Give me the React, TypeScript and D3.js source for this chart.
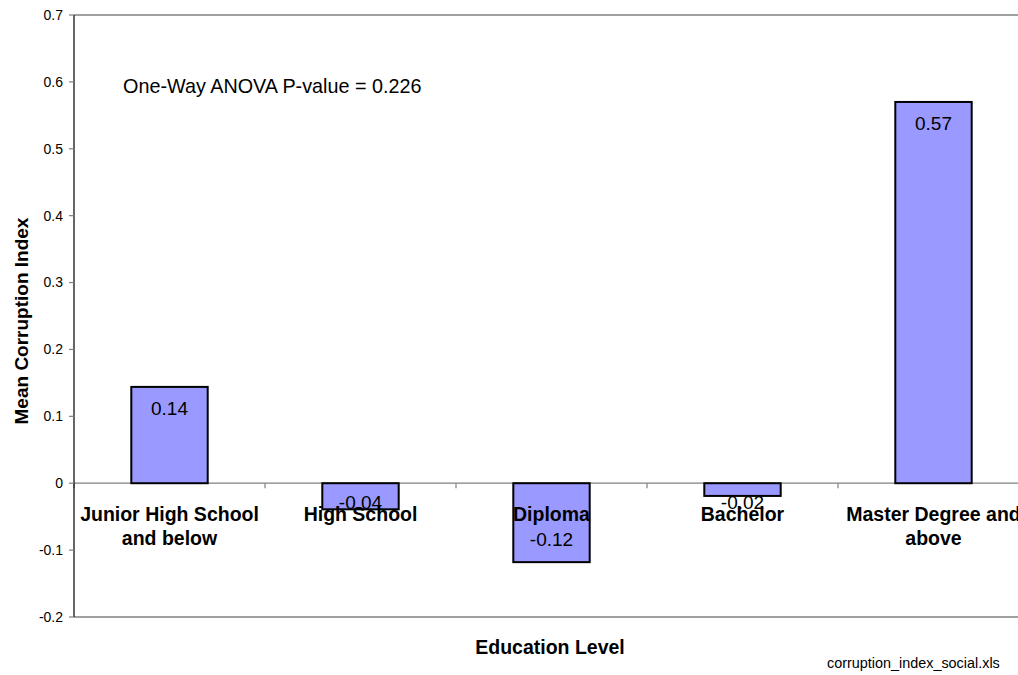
import React from "react";
import * as d3 from "d3";

const categories = ["Junior High School and below", "High School", "Diploma", "Bachelor", "Master Degree and above"];
const categoryLines = [["Junior High School", "and below"], ["High School"], ["Diploma"], ["Bachelor"], ["Master Degree and", "above"]];
const values = [0.144, -0.039, -0.118, -0.019, 0.57];
const valueLabels = ["0.14", "-0.04", "-0.12", "-0.02", "0.57"];
const yTicks = [-0.2, -0.1, 0, 0.1, 0.2, 0.3, 0.4, 0.5, 0.6, 0.7];
const yTickLabels = ["-0.2", "-0.1", "0", "0.1", "0.2", "0.3", "0.4", "0.5", "0.6", "0.7"];
const annotation = "One-Way ANOVA P-value = 0.226";
const xTitle = "Education Level";
const yTitle = "Mean Corruption Index";
const footer = "corruption_index_social.xls";

const FONT = "Arial, 'Liberation Sans', sans-serif";

export default function App() {
  const W = 1018, H = 675;
  const left = 74, right = 1029, top = 15, bottom = 617;
  const x = d3.scaleBand<string>().domain(categories).range([left, right]).paddingInner(0.6).paddingOuter(0.3);
  const y = d3.scaleLinear().domain([-0.2, 0.7]).range([bottom, top]);
  const y0 = y(0);
  const step = x.step();
  const boundaries = categories.slice(1).map((c) => (x(c) as number) - step * 0.3);

  return (
    <svg width={W} height={H} style={{ position: "absolute", left: 0, top: 0, background: "#fff" }} fontFamily={FONT}>
      <rect x={0} y={0} width={W} height={H} fill="#fff" />
      <line x1={left} x2={right} y1={top} y2={top} stroke="#808080" strokeWidth={1.5} />
      <line x1={left} x2={right} y1={bottom} y2={bottom} stroke="#808080" strokeWidth={1.5} />
      <line x1={left} x2={right} y1={y0} y2={y0} stroke="#808080" strokeWidth={1.2} />
      {[left, ...boundaries].map((bx, i) => (
        <line key={"xt" + i} x1={bx} x2={bx} y1={y0} y2={y0 + 5} stroke="#808080" strokeWidth={1.2} />
      ))}
      <line x1={left} x2={left} y1={top} y2={bottom} stroke="#000" strokeWidth={1.2} />
      {yTicks.map((t, i) => (
        <g key={"yt" + i}>
          <line x1={left - 5} x2={left} y1={y(t)} y2={y(t)} stroke="#808080" strokeWidth={1.2} />
          <text x={63} y={y(t)} dy="0.35em" textAnchor="end" fontSize={14} fill="#000">
            {yTickLabels[i]}
          </text>
        </g>
      ))}
      {categories.map((c, i) => {
        const v = values[i];
        const yv = y(v);
        return (
          <rect
            key={"b" + i}
            x={x(c)}
            y={Math.min(yv, y0)}
            width={x.bandwidth()}
            height={Math.abs(yv - y0)}
            fill="#9999FF"
            stroke="#000"
            strokeWidth={2}
          />
        );
      })}
      {categories.map((c, i) => {
        const v = values[i];
        const yv = y(v);
        const by = v >= 0 ? yv + 28 : Math.max(yv - 16, y0 + 26);
        return (
          <text key={"vl" + i} x={(x(c) as number) + x.bandwidth() / 2} y={by} textAnchor="middle" fontSize={19} fill="#000">
            {valueLabels[i]}
          </text>
        );
      })}
      {categories.map((c, i) => (
        <text key={"cl" + i} x={(x(c) as number) + x.bandwidth() / 2} y={521} textAnchor="middle" fontSize={19.5} fontWeight="bold" fill="#000">
          {categoryLines[i].map((ln, j) => (
            <tspan key={j} x={(x(c) as number) + x.bandwidth() / 2} dy={j === 0 ? 0 : 24}>
              {ln}
            </tspan>
          ))}
        </text>
      ))}
      <text x={123} y={93} fontSize={19.8} fill="#000">{annotation}</text>
      <text x={550} y={654} textAnchor="middle" fontSize={19.5} fontWeight="bold" fill="#000">{xTitle}</text>
      <text transform={`translate(28,321) rotate(-90)`} textAnchor="middle" fontSize={19} fontWeight="bold" fill="#000">{yTitle}</text>
      <text x={827} y={668} fontSize={14.4} fill="#000">{footer}</text>
    </svg>
  );
}
